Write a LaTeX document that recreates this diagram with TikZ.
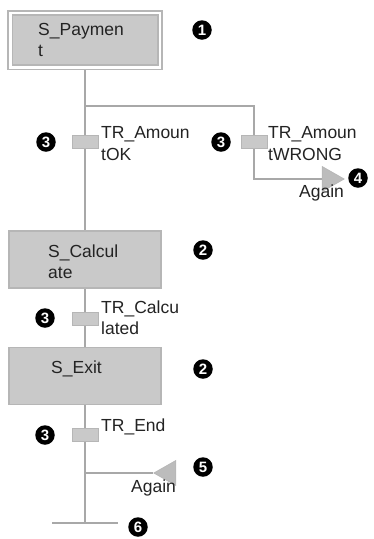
\documentclass[tikz,border=0pt]{standalone}
\usepackage{fontspec}
\setmainfont{Liberation Sans}
\usetikzlibrary{shapes.geometric,backgrounds}
\definecolor{sfcline}{RGB}{168,168,168}
\definecolor{sfcfill}{RGB}{201,201,201}
\definecolor{sfcedge}{RGB}{182,182,182}
\definecolor{sfcjump}{RGB}{188,188,188}
\definecolor{sfctext}{RGB}{35,35,35}
\newcommand*\sfcBadge[3]{%
    \node[sfc/badge] (#1) at (#2) {#3};
}
\tikzset{sfc/.cd,
         step box/.style={draw=sfcedge,fill=sfcfill,line width=1.6pt,
                          minimum width=152pt,minimum height=57pt,inner sep=0pt},
         init box/.style={sfc/step box,double=white,double distance=2.5pt,
                          minimum width=149.5pt,minimum height=54.5pt},
         trans/.style={draw=sfcedge,fill=sfcfill,line width=0.8pt,
                       minimum width=26pt,minimum height=13pt,inner sep=0pt},
         jump/.style={isosceles triangle,isosceles triangle stretches,
                      draw=sfcedge,fill=sfcjump,line width=0.6pt,
                      minimum width=25pt,minimum height=22pt,inner sep=0pt},
         label/.style={anchor=base west,align=left,inner sep=0pt,text=sfctext,
                       font=\fontsize{17.5}{21.5}\selectfont},
         badge/.style={circle,fill=black,text=white,minimum size=19.5pt,inner sep=0pt,
                       font=\fontsize{15}{15}\selectfont\bfseries},
         link/.style={draw=sfcline,line width=2pt}}

\begin{document}
\begin{tikzpicture}[x=1pt,y=-1pt]
\useasboundingbox (0,0) rectangle (374,539);
% steps (labels sit on the baseline of their last line)
\node[sfc/init box] (sPayment)   at (85,40)    {};
\node[sfc/step box] (sCalculate) at (85,259.5) {};
\node[sfc/step box] (sExit)      at (85,376)   {};
\node[sfc/label] (sPaymentName)   at (38,56.5)  {S\_Paymen\\t};
\node[sfc/label] (sCalculateName) at (48,278.5) {S\_Calcul\\ate};
\node[sfc/label] (sExitName)      at (51,373)   {S\_Exit};
% transitions
\node[sfc/trans] (trAmountOK)    at (85,141.5)  {};
\node[sfc/trans] (trAmountWrong) at (254,141.5) {};
\node[sfc/trans] (trCalculated)  at (85,319)    {};
\node[sfc/trans] (trEnd)         at (85,435)    {};
\node[sfc/label] (trAmountOKName)    at (101,160)   {TR\_Amoun\\tOK};
\node[sfc/label] (trAmountWrongName) at (268,160)   {TR\_Amoun\\tWRONG};
\node[sfc/label] (trCalculatedName)  at (101,334.5) {TR\_Calcu\\lated};
\node[sfc/label] (trEndName)         at (101,431)   {TR\_End};
% jumps
\node[sfc/jump,anchor=apex] (jumpAgainOne) at (345,179) {};
\node[sfc/jump,shape border rotate=180,anchor=apex] (jumpAgainTwo) at (153,473) {};
\node[sfc/label] (jumpAgainOneName) at (299,197) {Again};
\node[sfc/label] (jumpAgainTwoName) at (131,492) {Again};
% branch points
\coordinate (branch)   at (85,106);
\coordinate (loopTwo)  at (sExit |- jumpAgainTwo.apex);
\coordinate (endMid)   at (85,523);
\coordinate (endLeft)  at (52,523);
\coordinate (endRight) at (118,523);
% callouts
\sfcBadge{badgeOne}{202,30}{1}
\sfcBadge{badgeTwoA}{203,250}{2}
\sfcBadge{badgeTwoB}{203,369}{2}
\sfcBadge{badgeThreeA}{46,142}{3}
\sfcBadge{badgeThreeB}{221,142}{3}
\sfcBadge{badgeThreeC}{45,318}{3}
\sfcBadge{badgeThreeD}{45,435}{3}
\sfcBadge{badgeFour}{358,178}{4}
\sfcBadge{badgeFive}{203,467}{5}
\sfcBadge{badgeSix}{138,527}{6}
% connectors
\begin{scope}[on background layer]
\draw[sfc/link] (sPayment.south) -- (sCalculate.north);
\draw[sfc/link] (branch) -| (trAmountWrong.center) |- (jumpAgainOne.lower side);
\draw[sfc/link] (sCalculate.south) -- (sExit.north);
\draw[sfc/link] (sExit.south) -- (endMid);
\draw[sfc/link] (loopTwo) -- (jumpAgainTwo.apex);
\draw[sfc/link] (endLeft) -- (endRight);
\end{scope}
\end{tikzpicture}
\end{document}
